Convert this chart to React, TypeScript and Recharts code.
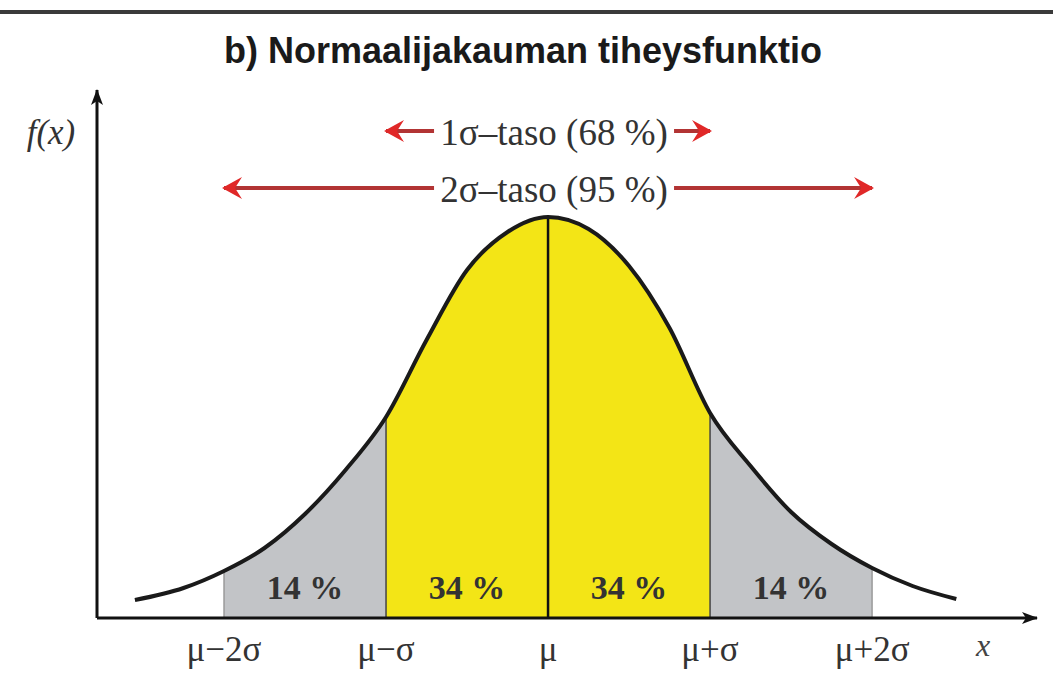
import React from 'react';
import { ComposedChart, Area, Line, XAxis, YAxis, ReferenceLine, ReferenceArea } from 'recharts';

// curve: position in sigma units and height of f(x)
const sigmaPos = [-2.55, -2.25, -2, -1.75, -1.5, -1.25, -1, -0.75, -0.5, -0.25, 0, 0.25, 0.5, 0.75, 1, 1.25, 1.5, 1.75, 2, 2.25, 2.52];
const density = [0.018, 0.03, 0.047, 0.07, 0.104, 0.148, 0.201, 0.278, 0.348, 0.386, 0.401, 0.389, 0.352, 0.29, 0.205, 0.152, 0.106, 0.074, 0.05, 0.032, 0.019];

const tickValues = [-2, -1, 0, 1, 2];
const tickLabels = ['μ−2σ', 'μ−σ', 'μ', 'μ+σ', 'μ+2σ'];

const bandEdges = [-2, -1, 0, 1, 2];
const bandLabels = ['14 %', '34 %', '34 %', '14 %'];

const levelSpans = [1, 2];
const levelLabels = ['1σ–taso (68 %)', '2σ–taso (95 %)'];
const levelHeights = [0.487, 0.43];

const rows = sigmaPos.map((x, i) => ({
  x,
  f: density[i],
  tailL: x >= -2 && x <= -1 ? density[i] : null,
  core: x >= -1 && x <= 1 ? density[i] : null,
  tailR: x >= 1 && x <= 2 ? density[i] : null,
}));

const densityAt = (x: number) => density[sigmaPos.indexOf(x)];

const serif = '"Liberation Serif", "Times New Roman", serif';

const ArrowLine = (p: any) => (
  <line
    x1={p.x1}
    y1={p.y1}
    x2={p.x2}
    y2={p.y2}
    stroke="#b23434"
    strokeWidth={4}
    markerStart="url(#redHead)"
    markerEnd="url(#redHead)"
  />
);

const LevelLabel = (props: any) => {
  const vb = props.viewBox || {};
  const cx = vb.x1 !== undefined ? (vb.x1 + vb.x2) / 2 : vb.x + (vb.width || 0) / 2;
  const cy = vb.y1 !== undefined ? vb.y1 : vb.y + (vb.height || 0) / 2;
  return (
    <g>
      <rect x={cx - 114} y={cy - 22} width={240} height={44} fill="#fff" />
      <text x={cx + 6} y={cy + 1} textAnchor="middle" dominantBaseline="central" fontFamily={serif} fontSize={37} fill="#333">
        {props.value}
      </text>
    </g>
  );
};

export default function App() {
  return (
    <div style={{ position: 'fixed', left: 0, top: 0, width: 1053, height: 684, background: '#fff' }}>
      <div style={{ position: 'absolute', left: 0, right: 0, top: 10, borderTop: '4px solid #3a3a3a' }} />
      <div
        style={{
          position: 'absolute',
          top: 30,
          left: 0,
          width: 1046,
          textAlign: 'center',
          fontFamily: '"Liberation Sans", Arial, sans-serif',
          fontWeight: 'bold',
          fontSize: 36,
          color: '#1a1a1a',
        }}
      >
        b) Normaalijakauman tiheysfunktio
      </div>
      <ComposedChart width={1053} height={684} data={rows} margin={{ top: 90, right: 16, bottom: 16, left: 95 }}>
        <defs>
          <marker id="axisArrow" viewBox="0 0 16 12" refX="15" refY="6" markerWidth="16" markerHeight="12" markerUnits="userSpaceOnUse" orient="auto-start-reverse">
            <path d="M0,0 L16,6 L0,12 L4,6 Z" fill="#111" />
          </marker>
          <marker id="redHead" viewBox="0 0 20 24" refX="18" refY="12" markerWidth="20" markerHeight="24" markerUnits="userSpaceOnUse" orient="auto-start-reverse">
            <path d="M0,1 L20,12 L0,23 L7,12 Z" fill="#e02828" />
          </marker>
        </defs>
        <XAxis
          dataKey="x"
          type="number"
          domain={[-2.784, 3.018]}
          ticks={tickValues}
          interval={0}
          allowDataOverflow
          tickFormatter={(v: number) => tickLabels[tickValues.indexOf(v)]}
          tickLine={false}
          tickMargin={12}
          height={50}
          tick={{ fill: '#333', fontSize: 35, fontFamily: serif }}
          axisLine={{ stroke: '#111', strokeWidth: 3, markerEnd: 'url(#axisArrow)' }}
          label={{
            value: 'x',
            content: (p: any) => (
              <text x={p.viewBox.x + p.viewBox.width - 54} y={p.viewBox.y + 38} textAnchor="middle" fontFamily={serif} fontStyle="italic" fontSize={32} fill="#444">
                x
              </text>
            ),
          }}
        />
        <YAxis
          type="number"
          domain={[0, 0.528]}
          width={2}
          tick={false}
          tickLine={false}
          allowDataOverflow
          axisLine={{ stroke: '#111', strokeWidth: 3, markerStart: 'url(#axisArrow)' }}
          label={{
            value: 'f(x)',
            content: (p: any) => (
              <text x={p.viewBox.x - 44} y={p.viewBox.y + 54} textAnchor="middle" fontFamily={serif} fontStyle="italic" fontSize={35} fill="#333">
                f(x)
              </text>
            ),
          }}
        />
        <Area dataKey="tailL" type="monotone" stroke="none" fill="#c2c4c7" fillOpacity={1} isAnimationActive={false} />
        <Area dataKey="core" type="monotone" stroke="none" fill="#f3e516" fillOpacity={1} isAnimationActive={false} />
        <Area dataKey="tailR" type="monotone" stroke="none" fill="#c2c4c7" fillOpacity={1} isAnimationActive={false} />
        {bandEdges.map((b) => (
          <ReferenceLine
            key={'edge' + b}
            segment={[{ x: b, y: 0 }, { x: b, y: densityAt(b) }]}
            stroke={Math.abs(b) === 2 ? '#9a9a9a' : b === 0 ? '#111' : '#444'}
            strokeWidth={b === 0 ? 2.5 : 1.5}
          />
        ))}
        <Line dataKey="f" type="monotone" stroke="#1a1a1a" strokeWidth={4} dot={false} activeDot={false} isAnimationActive={false} />
        {bandLabels.map((t, i) => (
          <ReferenceArea
            key={'band' + i}
            x1={bandEdges[i]}
            x2={bandEdges[i + 1]}
            y1={0}
            y2={0.062}
            fillOpacity={0}
            strokeOpacity={0}
            label={{ value: t, position: 'center', fill: '#333', fontSize: 34, fontWeight: 'bold', fontFamily: serif }}
          />
        ))}
        {levelSpans.map((s, i) => (
          <ReferenceLine
            key={'level' + s}
            segment={[{ x: -s, y: levelHeights[i] }, { x: s, y: levelHeights[i] }]}
            shape={ArrowLine}
            label={{ value: levelLabels[i], content: LevelLabel }}
          />
        ))}
      </ComposedChart>
    </div>
  );
}
